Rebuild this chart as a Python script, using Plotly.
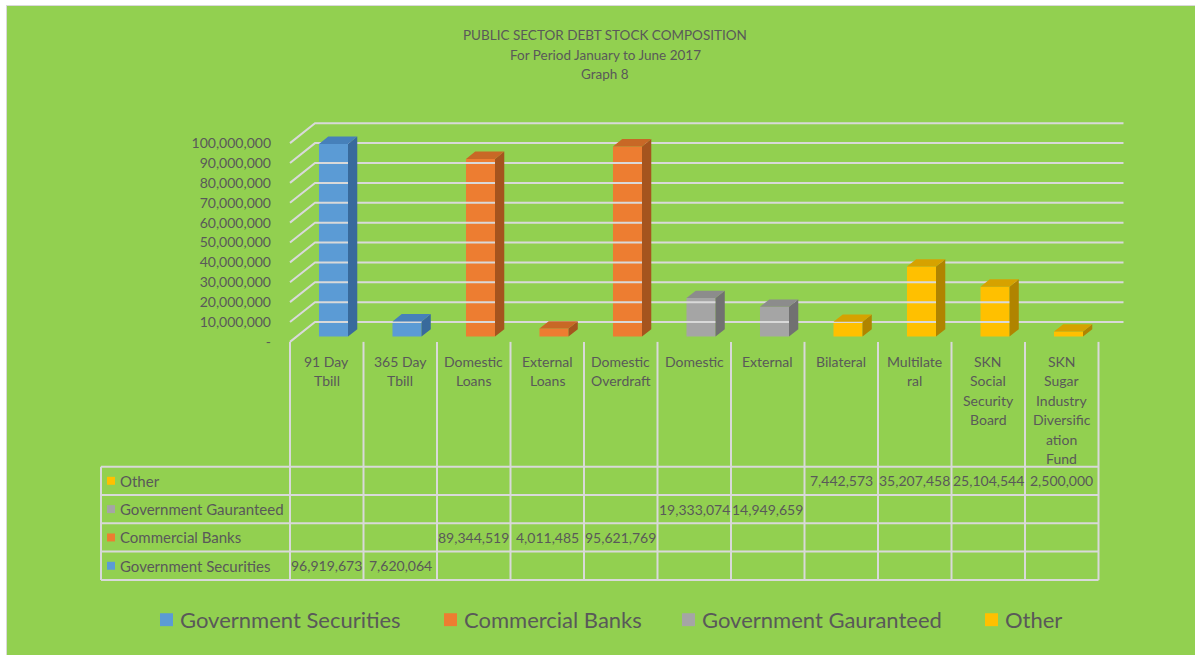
import plotly.graph_objects as go

# ---------------- data ----------------
categories = ["91 Day Tbill", "365 Day Tbill", "Domestic Loans", "External Loans",
              "Domestic Overdraft", "Domestic", "External", "Bilateral",
              "Multilateral", "SKN Social Security Board",
              "SKN Sugar Industry Diversification Fund"]
header_lines = [["91 Day", "Tbill"], ["365 Day", "Tbill"], ["Domestic", "Loans"],
                ["External", "Loans"], ["Domestic", "Overdraft"], ["Domestic"],
                ["External"], ["Bilateral"], ["Multilate", "ral"],
                ["SKN", "Social", "Security", "Board"],
                ["SKN", "Sugar", "Industry", "Diversific", "ation", "Fund"]]
series_names = ["Government Securities", "Commercial Banks",
                "Government Gauranteed", "Other"]
gov_securities = [96919673, 7620064, None, None, None, None, None, None, None, None, None]
commercial_banks = [None, None, 89344519, 4011485, 95621769, None, None, None, None, None, None]
gov_guaranteed = [None, None, None, None, None, 19333074, 14949659, None, None, None, None]
other = [None, None, None, None, None, None, None, 7442573, 35207458, 25104544, 2500000]
series_values = [gov_securities, commercial_banks, gov_guaranteed, other]
y_ticks = [0, 10000000, 20000000, 30000000, 40000000, 50000000,
           60000000, 70000000, 80000000, 90000000, 100000000]

# ---------------- style ----------------
W, H = 1195, 655
FONT = "Lato"
TXT = "#595959"
GREEN = "#92D050"
LINE = "#D9D9D9"
front_cols = ["#5B9BD5", "#ED7D31", "#A5A5A5", "#FFC000"]
top_cols = ["#4680BA", "#C86826", "#8C8C8C", "#D6A200"]
side_cols = ["#386A9C", "#A5541E", "#717171", "#B08400"]

COLW = 73.5          # px per category column
X0PX = 290           # left edge of first column
def X(px):
    return px / W
def Y(py):
    return 1 - py / H

# axis geometry: front plane, value v at pixel 344 - 2*v/1e6
dom_l, dom_r = 280, 1130
xr0 = (dom_l - X0PX) / COLW - 0.5
xr1 = (dom_r - X0PX) / COLW - 0.5
dom_t, dom_b = 120, 348
yr1 = (344 - dom_t) / 2 * 1e6
yr0 = (344 - dom_b) / 2 * 1e6

DEPTH_X = 25 / COLW      # full floor depth in x units
DEPTH_Y = 10e6           # full floor depth in y units
bar_d0 = 0.27            # depth of bar front face
bar_dd = 0.37            # bar depth
bar_w = 0.395
bx = bar_d0 * DEPTH_X
by = bar_d0 * DEPTH_Y
ddx = bar_dd * DEPTH_X
ddy = bar_dd * DEPTH_Y

fig = go.Figure()

# back wall gridlines + side slants
gx, gy = [], []
for v in y_ticks:
    gx += [-0.5, -0.5 + DEPTH_X, 10.5 + DEPTH_X, None]
    gy += [v, v + DEPTH_Y, v + DEPTH_Y, None]
fig.add_trace(go.Scatter(x=gx, y=gy, mode="lines", line=dict(color=LINE, width=2),
                         hoverinfo="skip", showlegend=False))

# bars (front faces) + pseudo 3D faces
for s, (name, vals) in enumerate(zip(series_names, series_values)):
    xs = [i for i, v in enumerate(vals) if v is not None]
    ys = [v for v in vals if v is not None]
    fig.add_trace(go.Bar(x=xs, y=ys, base=by, offset=bx - bar_w / 2, width=bar_w,
                         marker=dict(color=front_cols[s], line=dict(width=0)),
                         name=name, showlegend=False))
    sx, sy, tx, ty = [], [], [], []
    for i, v in zip(xs, ys):
        xl = i + bx - bar_w / 2
        xr = i + bx + bar_w / 2
        sx += [xr, xr, xr + ddx, xr + ddx, xr, None]
        sy += [by, by + v, by + v + ddy, by + ddy, by, None]
        tx += [xl, xr, xr + ddx, xl + ddx, xl, None]
        ty += [by + v, by + v, by + v + ddy, by + v + ddy, by + v, None]
    fig.add_trace(go.Scatter(x=sx, y=sy, mode="lines", fill="toself",
                             fillcolor=side_cols[s], line=dict(width=0),
                             hoverinfo="skip", showlegend=False))
    fig.add_trace(go.Scatter(x=tx, y=ty, mode="lines", fill="toself",
                             fillcolor=top_cols[s], line=dict(width=0),
                             hoverinfo="skip", showlegend=False))

shapes = []
annotations = []

# background
shapes.append(dict(type="rect", xref="paper", yref="paper", x0=X(6), x1=1.01,
                   y0=-0.01, y1=Y(5), fillcolor="#D9D9D9", line=dict(width=0), layer="below"))
shapes.append(dict(type="rect", xref="paper", yref="paper", x0=X(7), x1=1.01,
                   y0=-0.01, y1=Y(6), fillcolor=GREEN, line=dict(width=0), layer="below"))

# title
for j, t in enumerate(["PUBLIC SECTOR DEBT STOCK COMPOSITION",
                       "For Period January to June 2017", "Graph 8"]):
    annotations.append(dict(xref="paper", yref="paper", x=X(605), y=Y(35.5 + 19.5 * j),
                            text=t, showarrow=False, xanchor="center", yanchor="middle",
                            font=dict(family=FONT, size=13.5, color=TXT)))

# data table
SH = 2.5  # vertical nudge
col_edges = [X0PX + COLW * k for k in range(len(categories) + 1)]
row_lines = [467 + SH, 495.5 + SH, 524 + SH, 552.5 + SH, 581 + SH]
for xe in col_edges:
    shapes.append(dict(type="line", xref="paper", yref="paper", x0=X(xe), x1=X(xe),
                       y0=Y(344), y1=Y(row_lines[-1]), line=dict(color=LINE, width=2)))
shapes.append(dict(type="line", xref="paper", yref="paper", x0=X(101), x1=X(101),
                   y0=Y(row_lines[0]), y1=Y(row_lines[-1]), line=dict(color=LINE, width=2)))
for ry in row_lines:
    shapes.append(dict(type="line", xref="paper", yref="paper", x0=X(101), x1=X(col_edges[-1]),
                       y0=Y(ry), y1=Y(ry), line=dict(color=LINE, width=2)))

# header labels
for i, lines in enumerate(header_lines):
    cx = X0PX + COLW * (i + 0.5)
    for j, t in enumerate(lines):
        annotations.append(dict(xref="paper", yref="paper", x=X(cx), y=Y(361 + SH + 19.6 * j),
                                text=t, showarrow=False, xanchor="center", yanchor="middle",
                                font=dict(family=FONT, size=14, color=TXT)))

# rows: top to bottom Other, Gov Guaranteed, Commercial Banks, Gov Securities
row_order = [3, 2, 1, 0]
for r, s in enumerate(row_order):
    cy = (row_lines[r] + row_lines[r + 1]) / 2
    shapes.append(dict(type="rect", xref="paper", yref="paper", x0=X(107), x1=X(115),
                       y0=Y(cy + 4), y1=Y(cy - 4), fillcolor=front_cols[s], line=dict(width=0)))
    annotations.append(dict(xref="paper", yref="paper", x=X(118), y=Y(cy),
                            text=series_names[s], showarrow=False, xanchor="left", yanchor="middle",
                            font=dict(family=FONT, size=15, color=TXT)))
    for i, v in enumerate(series_values[s]):
        if v is None:
            continue
        cx = X0PX + COLW * (i + 0.5)
        annotations.append(dict(xref="paper", yref="paper", x=X(cx), y=Y(cy),
                                text=f"{v:,}", showarrow=False, xanchor="center", yanchor="middle",
                                font=dict(family=FONT, size=14, color=TXT)))

# bottom legend
legend_x = [160, 444, 682, 985]
for s, lx in enumerate(legend_x):
    shapes.append(dict(type="rect", xref="paper", yref="paper", x0=X(lx), x1=X(lx + 13),
                       y0=Y(630), y1=Y(617), fillcolor=front_cols[s], line=dict(width=0)))
    annotations.append(dict(xref="paper", yref="paper", x=X(lx + 18), y=Y(623),
                            text=series_names[s], showarrow=False, xanchor="left", yanchor="middle",
                            font=dict(family=FONT, size=22, color=TXT)))

tick_text = ["-" if v == 0 else f"{v:,}" for v in y_ticks]

fig.update_layout(
    width=W, height=H, autosize=False,
    margin=dict(l=0, r=0, t=0, b=0),
    paper_bgcolor="white", plot_bgcolor="rgba(0,0,0,0)",
    showlegend=False, barmode="overlay",
    shapes=shapes, annotations=annotations,
    font=dict(family=FONT, color=TXT),
    xaxis=dict(domain=[X(dom_l), X(dom_r)], range=[xr0, xr1], visible=False, fixedrange=True),
    yaxis=dict(domain=[Y(dom_b), Y(dom_t)], range=[yr0, yr1], showgrid=False, zeroline=False,
               showline=False, ticks="", tickvals=y_ticks, ticktext=tick_text,
               ticklabelstandoff=8, tickfont=dict(family=FONT, size=14, color=TXT),
               fixedrange=True),
)

fig.write_html("out.html")
